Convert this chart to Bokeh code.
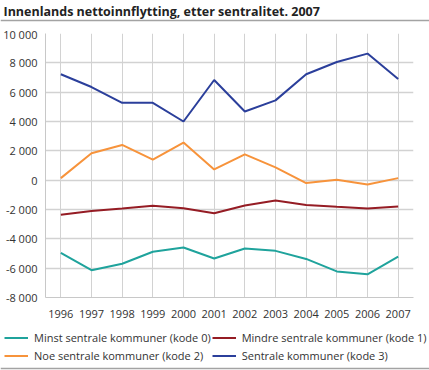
from bokeh.plotting import figure
from bokeh.layouts import column
from bokeh.models import FixedTicker, Legend, LegendItem, Range1d, Label
from bokeh.embed import file_html
from bokeh.resources import INLINE

# ---- data ----
years = [1996, 1997, 1998, 1999, 2000, 2001, 2002, 2003, 2004, 2005, 2006, 2007]
minst = [-4950, -6140, -5700, -4880, -4590, -5340, -4660, -4820, -5370, -6220, -6420, -5220]
mindre = [-2350, -2100, -1940, -1750, -1920, -2260, -1730, -1390, -1690, -1820, -1940, -1800]
noe = [140, 1830, 2400, 1400, 2560, 730, 1760, 870, -200, 30, -290, 140]
sentrale = [7220, 6350, 5270, 5270, 4000, 6830, 4685, 5440, 7220, 8060, 8630, 6900]

series_names = ["Minst sentrale kommuner (kode 0)", "Mindre sentrale kommuner (kode 1)",
                "Noe sentrale kommuner (kode 2)", "Sentrale kommuner (kode 3)"]
series_colors = ["#1fa39c", "#951c24", "#f7933b", "#2b3f9b"]

y_ticks = [-8000, -6000, -4000, -2000, 0, 2000, 4000, 6000, 8000, 10000]
y_tick_labels = ["-8 000", "-6 000", "-4 000", "-2 000", "0", "2 000", "4 000", "6 000", "8 000", "10 000"]
title_text = "Innenlands nettoinnflytting, etter sentralitet. 2007"

FONT = "Open Sans"
W = 429
H_TOP, H_MAIN, H_BOT = 26, 296, 48
RULE = "#a3a3a3"


def unalign(f):
    if "frame_align" in f.properties():
        f.frame_align = False
    return f


def bare(h):
    f = figure(width=W, height=h, output_backend="svg", toolbar_location=None,
               x_range=Range1d(0, W), y_range=Range1d(0, h),
               x_axis_location=None, y_axis_location=None,
               min_border=0, min_border_left=0, min_border_right=0, min_border_top=0, min_border_bottom=0)
    f.grid.visible = False
    f.outline_line_color = None
    f.background_fill_color = "white"
    f.border_fill_color = "white"
    return unalign(f)


# ---- title strip ----
top = bare(H_TOP)
top.add_layout(Label(x=3, y=H_TOP - 11, text=title_text, text_font=FONT, text_font_size="12.5px",
                     text_font_style="bold", text_color="#222222", text_baseline="middle"))
top.line([0, W], [H_TOP - 20, H_TOP - 20], line_color=RULE, line_width=1.5)

# ---- main chart ----
p = figure(width=W, height=H_MAIN, output_backend="svg", toolbar_location=None,
           x_range=Range1d(1995.5, 2007.5), y_range=Range1d(-8000, 10000),
           min_border_top=7, min_border_bottom=25, min_border_left=30, min_border_right=16)
unalign(p)
p.outline_line_color = None
p.background_fill_color = "white"
p.border_fill_color = "white"

p.xaxis.ticker = FixedTicker(ticks=years)
p.yaxis.ticker = FixedTicker(ticks=y_ticks)
p.yaxis.major_label_overrides = {t: l for t, l in zip(y_ticks, y_tick_labels)}
for ax in (p.xaxis[0], p.yaxis[0]):
    ax.axis_line_color = "#c8c8c8"
    ax.axis_line_width = 1
    ax.major_tick_line_color = None
    ax.minor_tick_line_color = None
    ax.major_label_text_font = FONT
    ax.major_label_text_font_size = "11px"
    ax.major_label_text_color = "#333333"
p.yaxis.major_label_standoff = 2
p.xaxis.major_label_standoff = 6

p.xgrid.ticker = FixedTicker(ticks=years)
p.ygrid.ticker = FixedTicker(ticks=y_ticks)
p.xgrid.grid_line_color = "#d2d2d2"
p.ygrid.grid_line_color = "#d2d2d2"
p.ygrid.grid_line_width = 1.5

for vals, col in zip([minst, mindre, noe, sentrale], series_colors):
    p.line(years, vals, line_color=col, line_width=2)

# ---- legend strip (keys are off-frame lines so only their legend glyphs show) ----
bot = bare(H_BOT)
keys = [bot.line([-20, -10], [-20, -20], line_color=c, line_width=2) for c in series_colors]
legend = Legend(items=[LegendItem(label=n, renderers=[r]) for n, r in zip(series_names, keys)],
                orientation="horizontal", ncols=2, location=(4, 6.5))
legend.label_text_font = FONT
legend.label_text_font_size = "11px"
legend.label_text_color = "#333333"
legend.glyph_width = 24
legend.glyph_height = 17
legend.label_height = 17
legend.label_standoff = 6
legend.spacing = 1
legend.padding = 0
legend.margin = 0
legend.border_line_color = None
legend.background_fill_alpha = 0
bot.add_layout(legend, "center")
bot.line([0, W], [2, 2], line_color=RULE, line_width=1.5)

layout = column(top, p, bot, spacing=0)
open("out.html", "w").write(file_html(layout, INLINE))
